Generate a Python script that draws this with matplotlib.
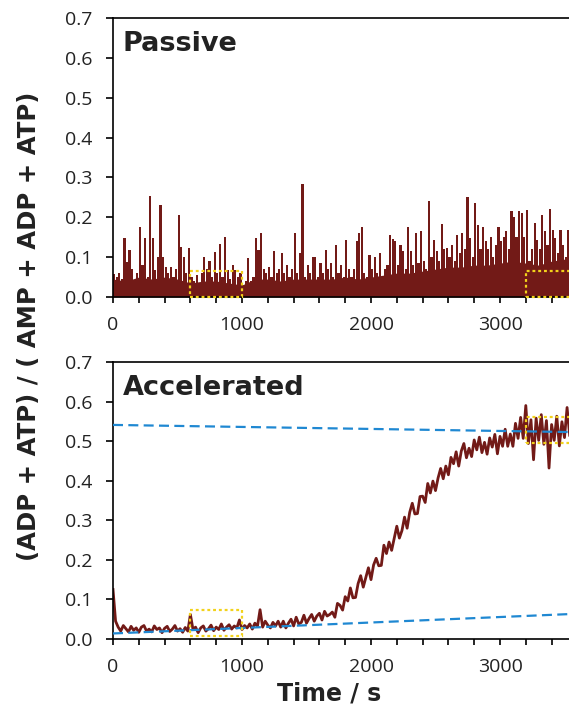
import matplotlib
matplotlib.use("Agg")
import matplotlib.pyplot as plt
from matplotlib.patches import Rectangle
from matplotlib.ticker import MultipleLocator, FormatStrFormatter
import numpy as np

# ---------------- data ----------------
dt = 20
time_s = np.arange(0, 3541, dt)

# spike heights of the passive trace (20 s bins)
passive = [
    0.058, 0.05, 0.06, 0.045, 0.147, 0.088, 0.118, 0.07, 0.04, 0.06,
    0.175, 0.08, 0.147, 0.05, 0.253, 0.147, 0.067, 0.1, 0.232, 0.1,
    0.075, 0.06, 0.075, 0.05, 0.07, 0.205, 0.126, 0.1, 0.06, 0.122,
    0.05, 0.04, 0.055, 0.03, 0.06, 0.1, 0.07, 0.09, 0.05, 0.114,
    0.06, 0.134, 0.05, 0.151, 0.067, 0.045, 0.08, 0.067, 0.05, 0.06,
    0.03, 0.04, 0.097, 0.04, 0.05, 0.147, 0.118, 0.16, 0.07, 0.06,
    0.076, 0.05, 0.115, 0.06, 0.07, 0.11, 0.06, 0.08, 0.05, 0.07,
    0.16, 0.06, 0.11, 0.283, 0.05, 0.08, 0.06, 0.1, 0.1, 0.05,
    0.085, 0.06, 0.118, 0.07, 0.085, 0.05, 0.13, 0.06, 0.08, 0.05,
    0.143, 0.07, 0.05, 0.07, 0.14, 0.16, 0.175, 0.06, 0.05, 0.105,
    0.07, 0.1, 0.06, 0.11, 0.045, 0.07, 0.08, 0.155, 0.145, 0.14,
    0.08, 0.13, 0.115, 0.07, 0.175, 0.115, 0.08, 0.16, 0.085, 0.165,
    0.09, 0.07, 0.24, 0.1, 0.143, 0.115, 0.09, 0.183, 0.12, 0.122,
    0.1, 0.13, 0.09, 0.155, 0.11, 0.16, 0.12, 0.25, 0.148, 0.1,
    0.235, 0.18, 0.12, 0.176, 0.14, 0.12, 0.15, 0.1, 0.13, 0.175,
    0.14, 0.15, 0.165, 0.12, 0.216, 0.2, 0.15, 0.216, 0.21, 0.15,
    0.218, 0.09, 0.12, 0.186, 0.143, 0.12, 0.205, 0.165, 0.13, 0.222,
    0.168, 0.148, 0.11, 0.168, 0.13, 0.1, 0.168, 0.22,
]

# dense lower level of the passive trace (100 s steps)
floor_t = np.arange(0, 3501, 100)
passive_floor = [
    0.045, 0.04, 0.05, 0.045, 0.05, 0.045,
    0.035, 0.04, 0.04, 0.035, 0.03,
    0.045, 0.045, 0.04, 0.045, 0.045,
    0.045, 0.045, 0.05, 0.045, 0.05,
    0.055, 0.06, 0.06, 0.065, 0.07,
    0.075, 0.075, 0.08, 0.08, 0.085,
    0.09, 0.085, 0.08, 0.09, 0.095,
]

accelerated = [
    0.125, 0.045, 0.03, 0.02, 0.034, 0.026, 0.018, 0.032, 0.022, 0.028,
    0.017, 0.03, 0.034, 0.02, 0.025, 0.018, 0.033, 0.024, 0.028, 0.016,
    0.027, 0.032, 0.019, 0.025, 0.034, 0.02, 0.026, 0.017, 0.029, 0.02,
    0.062, 0.024, 0.03, 0.016, 0.028, 0.033, 0.02, 0.026, 0.035, 0.021,
    0.03, 0.024, 0.038, 0.022, 0.03, 0.036, 0.025, 0.033, 0.028, 0.048,
    0.024, 0.034, 0.028, 0.038, 0.025, 0.04, 0.032, 0.074, 0.03, 0.045,
    0.035, 0.028, 0.042, 0.033, 0.045,
    0.03, 0.045, 0.028, 0.04, 0.05, 0.033, 0.055, 0.038, 0.042, 0.06,
    0.04, 0.052, 0.062, 0.045, 0.058, 0.065, 0.048, 0.07, 0.058, 0.062,
    0.068, 0.055, 0.09, 0.085, 0.073, 0.107, 0.096, 0.129, 0.104, 0.105,
    0.14, 0.16, 0.131, 0.156, 0.18, 0.15, 0.187, 0.204, 0.185, 0.186,
    0.237, 0.216, 0.245, 0.224, 0.254, 0.285, 0.255, 0.274, 0.308, 0.28,
    0.32, 0.343, 0.316, 0.317, 0.36, 0.361, 0.345, 0.393, 0.369, 0.399,
    0.375, 0.407, 0.431, 0.405, 0.437, 0.415, 0.459, 0.443, 0.473, 0.437,
    0.475, 0.494, 0.458, 0.482, 0.461, 0.503, 0.478, 0.51, 0.471, 0.497,
    0.467, 0.508, 0.485, 0.517, 0.468, 0.512, 0.487, 0.53, 0.487, 0.518,
    0.487, 0.545, 0.507, 0.56, 0.507, 0.59, 0.494, 0.554, 0.453, 0.558,
    0.502, 0.567, 0.492, 0.552, 0.432, 0.542, 0.502, 0.563, 0.488, 0.549,
    0.509, 0.585, 0.515,
]

# dashed reference lines (accelerated panel)
fit_t = [0, 3540]
upper_fit = [0.541, 0.523]
lower_fit = [0.014, 0.063]

# highlighted windows: (t_start, y_low, t_end, y_high)
passive_boxes = [(600, 0.0, 1000, 0.065), (3200, 0.0, 3800, 0.066)]
accel_boxes = [(600, 0.008, 1000, 0.073), (3200, 0.496, 3800, 0.561)]

panel_titles = ["Passive", "Accelerated"]
x_major = [0, 1000, 2000, 3000]

# ---------------- style ----------------
DARK = "#721a17"
BLUE = "#1f88d2"
YELLOW = "#f2d21b"
TICKFONT = "Open Sans"
BOLDFONT = "DejaVu Sans"

W, H = 569, 707
fig = plt.figure(figsize=(W / 100, H / 100), dpi=100)

px_per_1000 = 129.0
ax_w = 4.0 * px_per_1000 / W
left = 113 / W
ax1 = fig.add_axes([left, 1 - 297 / H, ax_w, 279 / H])
ax2 = fig.add_axes([left, 1 - 639 / H, ax_w, 277 / H])

ax1.fill_between(floor_t, passive_floor, 0, color=DARK, linewidth=0, zorder=2)
ax1.bar(time_s, passive, width=17, align="edge", color=DARK, linewidth=0,
        zorder=2)
ax2.plot(time_s, accelerated, color=DARK, lw=2.0, zorder=2)
ax2.plot(fit_t, upper_fit, color=BLUE, lw=1.6, dashes=(4.5, 2.4), zorder=3)
ax2.plot(fit_t, lower_fit, color=BLUE, lw=1.6, dashes=(4.5, 2.4), zorder=3)

for ax, boxes in ((ax1, passive_boxes), (ax2, accel_boxes)):
    for (x0, y0, x1, y1) in boxes:
        ax.add_patch(Rectangle((x0, y0), x1 - x0, y1 - y0, fill=False,
                               edgecolor=YELLOW, lw=1.6,
                               linestyle=(0, (1.3, 1.3)), zorder=4,
                               clip_on=False))

for ax, title in zip((ax1, ax2), panel_titles):
    ax.set_xlim(0, 4000)
    ax.set_ylim(0, 0.7)
    ax.set_xticks(x_major)
    ax.xaxis.set_minor_locator(MultipleLocator(200))
    ax.yaxis.set_major_locator(MultipleLocator(0.1))
    ax.yaxis.set_major_formatter(FormatStrFormatter("%.1f"))
    for s in ax.spines.values():
        s.set_linewidth(1.2)
        s.set_color("black")
    ax.tick_params(axis="x", which="both", direction="out", length=4.5,
                   width=1.2, pad=9.5)
    ax.tick_params(axis="y", which="major", direction="out", length=5,
                   width=1.2, pad=10)
    for lab in ax.get_xticklabels() + ax.get_yticklabels():
        lab.set_fontfamily(TICKFONT)
        lab.set_fontsize(14)
        lab.set_color("#222222")
    ax.text(0.019, 0.88, title, transform=ax.transAxes, ha="left",
            va="baseline", fontsize=19.5, fontweight="bold",
            family=BOLDFONT, color="#222222")

ax2.set_xlabel("Time / s", fontsize=17, fontweight="bold", family=BOLDFONT,
               color="#222222")
ax2.xaxis.set_label_coords((329 - 113) / (4 * px_per_1000), -0.155)

fig.text(29 / W, 1 - 326 / H, "(ADP + ATP) / ( AMP + ADP + ATP)",
         rotation=90, ha="center", va="center", fontsize=17.6,
         fontweight="bold", family=BOLDFONT, color="#222222")

fig.savefig("out.png", dpi=100)
